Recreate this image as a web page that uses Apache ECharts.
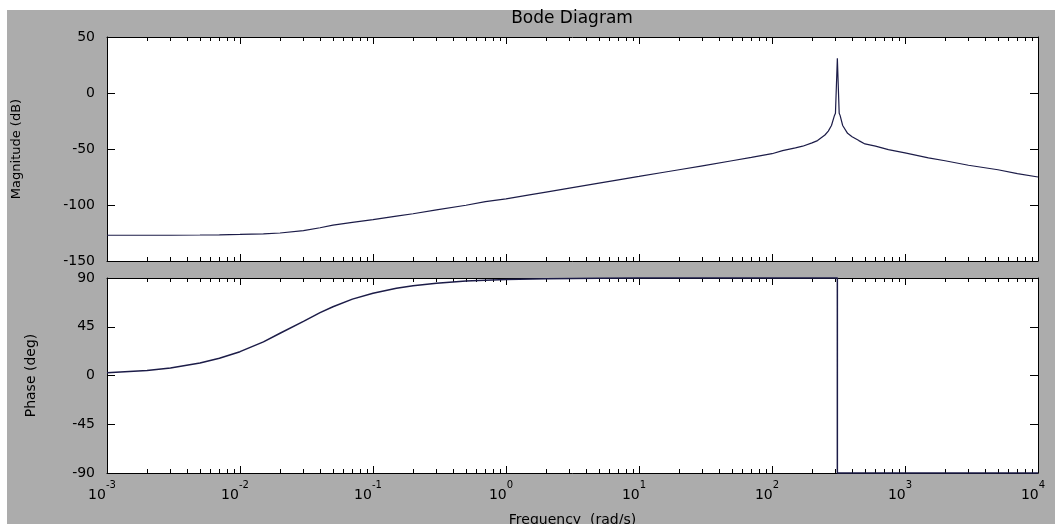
<!DOCTYPE html>
<html>
<head>
<meta charset="utf-8">
<script src="https://cdn.jsdelivr.net/npm/echarts@6/dist/echarts.min.js"></script>
<style>
  html, body { margin: 0; padding: 0; background: #ffffff; }
  #bg { position: absolute; left: 7px; top: 10px; width: 1048px; height: 514px; background: #acacac; }
  #chart { position: absolute; left: 0; top: 0; width: 1055px; height: 524px; }
</style>
</head>
<body>
<div id="bg"></div>
<div id="chart"></div>
<script>
// ---- data ----
const magFreq = [0.001, 0.002, 0.003, 0.005, 0.007, 0.01, 0.015, 0.02, 0.03, 0.04, 0.05, 0.07, 0.1, 0.15, 0.2, 0.3, 0.5, 0.7, 1, 1.5, 2, 3, 5, 7, 10, 15, 20, 30, 50, 70, 100, 120, 150, 170, 200, 220, 250, 265, 280, 295, 300, 310, 320, 325, 340, 370, 400, 450, 500, 600, 750, 1000, 1500, 2000, 3000, 5000, 7000, 10000];
const magDb   = [-127, -127, -127, -126.8, -126.6, -126.3, -125.8, -125, -122.8, -120.3, -118, -115.5, -113, -110, -107.8, -104.3, -100.2, -97, -94.5, -91, -88.5, -85, -80.5, -77.5, -74.5, -71, -68.5, -65, -60.5, -57.5, -54.2, -51.5, -49, -47.5, -44.5, -42.5, -37.5, -34, -29, -20, -18, 31, -18, -20, -29, -36, -39, -42.5, -45.5, -47.5, -50.5, -53.5, -58, -60.5, -64.5, -68.5, -72, -75];

const phaseFreq = [0.001, 0.002, 0.003, 0.005, 0.007, 0.01, 0.015, 0.02, 0.03, 0.04, 0.05, 0.07, 0.1, 0.15, 0.2, 0.3, 0.5, 0.7, 1, 2, 5, 10, 100, 310, 310, 10000];
const phaseDeg  = [2.6, 4.6, 7, 11.5, 16, 22, 31, 39, 50, 58, 63.5, 70.5, 76, 80.5, 82.8, 85.2, 87.2, 88, 88.6, 89.3, 89.7, 89.9, 90, 90, -90, -90];

// tick labels / tick structure
const xDecadeExponents = [-3, -2, -1, 0, 1, 2, 3, 4];
const xMinorFactors = [2, 3, 4, 5, 6, 7, 8, 9];
const magTicks = [-150, -100, -50, 0, 50];
const phaseTicks = [-90, -45, 0, 45, 90];

const titleText = 'Bode Diagram';
const magName = 'Magnitude (dB)';
const phaseName = 'Phase (deg)';
const freqName = 'Frequency  (rad/s)';

// ---- build ----
const minorExp = [];
xDecadeExponents.slice(0, -1).forEach(d => xMinorFactors.forEach(k => minorExp.push(d + Math.log10(k))));

const FONT = 'DejaVu Sans';
const LINE = '#1c1c48';

function pairs(xs, ys) { return xs.map((x, i) => [x, ys[i]]); }

function logAxis(grid) {
  return { type: 'log', logBase: 10, gridIndex: grid, min: 0.001, max: 10000, show: false, axisLine: { onZero: false } };
}
function majorAxis(grid, pos, labels, extra) {
  return Object.assign({
    type: 'value', gridIndex: grid, position: pos, min: xDecadeExponents[0], max: xDecadeExponents[xDecadeExponents.length - 1], interval: 1,
    axisLine: { show: true, onZero: false, lineStyle: { color: '#000', width: 1 } },
    axisTick: { show: true, inside: true, length: 7, lineStyle: { color: '#000', width: 1 } },
    splitLine: { show: false },
    axisLabel: labels ? {
      show: true, margin: 7, color: '#000',
      formatter: v => '{b|10}{e|' + v + '}',
      rich: {
        b: { fontFamily: FONT, fontSize: 14, color: '#000', lineHeight: 22, verticalAlign: 'bottom' },
        e: { fontFamily: FONT, fontSize: 10, color: '#000', lineHeight: 10, verticalAlign: 'top', padding: [0, 10, 0, 0] }
      }
    } : { show: false }
  }, extra || {});
}
function minorAxis(grid, pos) {
  return {
    type: 'value', gridIndex: grid, position: pos, min: xDecadeExponents[0], max: xDecadeExponents[xDecadeExponents.length - 1],
    axisLine: { show: false, onZero: false },
    axisTick: { show: true, inside: true, length: 4, customValues: minorExp, lineStyle: { color: '#000', width: 1 } },
    axisLabel: { show: false },
    splitLine: { show: false }
  };
}
function yAx(grid, pos, ticks, labels, name, gap) {
  const o = {
    type: 'value', gridIndex: grid, position: pos, min: ticks[0], max: ticks[ticks.length - 1], interval: ticks[1] - ticks[0],
    axisLine: { show: true, onZero: false, lineStyle: { color: '#000', width: 1 } },
    axisTick: { show: true, inside: true, length: 8, lineStyle: { color: '#000', width: 1 } },
    splitLine: { show: false },
    axisLabel: labels ? { show: true, margin: 12, color: '#000', fontFamily: FONT, fontSize: 14 } : { show: false }
  };
  if (name) {
    o.name = name; o.nameLocation = 'middle'; o.nameGap = gap; o.nameMoveOverlap = false;
    o.nameTextStyle = { color: '#000', fontFamily: FONT, fontSize: name === magName ? 13 : 14 };
  }
  return o;
}

const option = {
  backgroundColor: 'transparent',
  animation: false,
  title: {
    text: titleText, left: 572, top: 10, textAlign: 'center', padding: 0,
    textStyle: { fontFamily: FONT, fontSize: 17, fontWeight: 'normal', color: '#000' }
  },
  grid: [
    { left: 107, top: 37, width: 931, height: 224, show: true, backgroundColor: '#ffffff', borderWidth: 0, outerBoundsMode: 'none', containLabel: false },
    { left: 107, top: 278, width: 931, height: 195, show: true, backgroundColor: '#ffffff', borderWidth: 0, outerBoundsMode: 'none', containLabel: false }
  ],
  xAxis: [
    logAxis(0),
    majorAxis(0, 'bottom', false),
    majorAxis(0, 'top', false),
    minorAxis(0, 'bottom'),
    minorAxis(0, 'top'),
    logAxis(1),
    majorAxis(1, 'bottom', true, {
      name: freqName, nameLocation: 'middle', nameGap: 40, nameMoveOverlap: false,
      nameTextStyle: { color: '#000', fontFamily: FONT, fontSize: 14 }
    }),
    majorAxis(1, 'top', false),
    minorAxis(1, 'bottom'),
    minorAxis(1, 'top')
  ],
  yAxis: [
    yAx(0, 'left', magTicks, true, magName, 84),
    yAx(0, 'right', magTicks, false),
    yAx(1, 'left', phaseTicks, true, phaseName, 69),
    yAx(1, 'right', phaseTicks, false)
  ],
  series: [
    { type: 'line', xAxisIndex: 0, yAxisIndex: 0, data: pairs(magFreq, magDb), showSymbol: false, symbol: 'none',
      lineStyle: { color: LINE, width: 1.2 }, clip: false, silent: true },
    { type: 'line', xAxisIndex: 5, yAxisIndex: 2, data: pairs(phaseFreq, phaseDeg), showSymbol: false, symbol: 'none',
      lineStyle: { color: LINE, width: 1.5 }, clip: false, silent: true }
  ]
};

const chart = echarts.init(document.getElementById('chart'), null, { renderer: 'canvas' });
chart.setOption(option);
</script>
</body>
</html>
